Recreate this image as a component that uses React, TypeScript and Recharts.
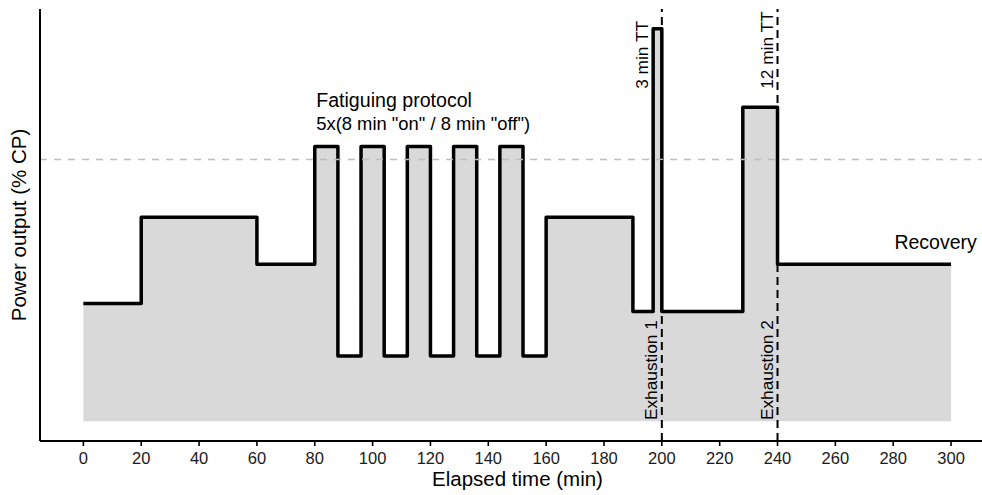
import React from "react";
import { ComposedChart, Area, XAxis, YAxis, ReferenceLine, ReferenceDot } from "recharts";

// elapsed time (min) where each step starts, and power (% CP) held from there
const times = [0, 20, 60, 80, 88, 96, 104, 112, 120, 128, 136, 144, 152, 160, 190, 197, 200, 228, 240, 300];
const power = [45, 78, 60, 105, 25, 105, 25, 105, 25, 105, 25, 105, 25, 78, 42, 150, 42, 120, 60, 60];

const xTicks = [0, 20, 40, 60, 80, 100, 120, 140, 160, 180, 200, 220, 240, 260, 280, 300];
const cpLevel = 100;
const exhaustionTimes = [200, 240];

// text notes, placed in data units
const notes = [
  { text: "Fatiguing protocol", x: 80.5, y: 120, angle: 0, anchor: "start", size: 19.6 },
  { text: '5x(8 min "on" / 8 min "off")', x: 80.5, y: 111.2, angle: 0, anchor: "start", size: 18.4 },
  { text: "3 min TT", x: 195.3, y: 127, angle: -90, anchor: "start", size: 17.3 },
  { text: "12 min TT", x: 238.4, y: 127, angle: -90, anchor: "start", size: 17.3 },
  { text: "Exhaustion 1", x: 198.2, y: 0.5, angle: -90, anchor: "start", size: 17.3 },
  { text: "Exhaustion 2", x: 238.4, y: 0.5, angle: -90, anchor: "start", size: 17.3 },
  { text: "Recovery", x: 308.9, y: 66, angle: 0, anchor: "end", size: 19.5 },
];

const data = times.map((t, i) => ({ time: t, power: power[i] }));

const FONT = "'Liberation Sans', Arial, Helvetica, sans-serif";

export default function App() {
  return (
    <div style={{ position: "absolute", left: 0, top: 0, fontFamily: FONT }}>
      <ComposedChart width={982} height={495} data={data} margin={{ top: 9, right: 0, left: 0, bottom: 0 }}>
        <XAxis
          dataKey="time"
          type="number"
          domain={[-15, 310.7]}
          ticks={xTicks}
          interval={0}
          height={54}
          tickSize={5}
          tickMargin={6}
          tick={{ fontSize: 16.5, fill: "#1a1a1a" }}
          tickLine={{ stroke: "#000", strokeWidth: 1.6 }}
          axisLine={{ stroke: "#000", strokeWidth: 2 }}
          label={{
            content: ({ viewBox }: any) => (
              <text x={viewBox.x + viewBox.width / 2 + 6.5} y={viewBox.y + 44.7} textAnchor="middle" fontSize={20.5} fill="#000">
                Elapsed time (min)
              </text>
            ),
          }}
        />
        <YAxis
          type="number"
          domain={[-7.5, 157.5]}
          width={40}
          tick={false}
          tickLine={false}
          axisLine={{ stroke: "#000", strokeWidth: 2 }}
          label={{
            content: ({ viewBox }: any) => {
              const cx = viewBox.x + 26.3;
              const cy = viewBox.y + viewBox.height / 2;
              return (
                <text x={cx} y={cy} transform={`rotate(-90 ${cx} ${cy})`} textAnchor="middle" fontSize={20.5} fill="#000">
                  Power output (% CP)
                </text>
              );
            },
          }}
        />
        <Area
          type="stepAfter"
          dataKey="power"
          baseValue={0}
          stroke="#000"
          strokeWidth={3.5}
          strokeLinejoin="round"
          fill="#D9D9D9"
          fillOpacity={1}
          dot={false}
          activeDot={false}
          isAnimationActive={false}
        />
        <ReferenceLine y={cpLevel} stroke="#BDBDBD" strokeWidth={1.5} strokeDasharray="7 7" />
        {exhaustionTimes.map((t) => (
          <ReferenceLine key={t} x={t} stroke="#000" strokeWidth={2} strokeDasharray="8 5" />
        ))}
        {notes.map((n) => (
          <ReferenceDot
            key={n.text}
            x={n.x}
            y={n.y}
            r={1}
            shape={(p: any) => (
              <text
                x={p.cx}
                y={p.cy}
                transform={n.angle ? `rotate(${n.angle} ${p.cx} ${p.cy})` : undefined}
                textAnchor={n.anchor}
                fontSize={n.size}
                fill="#000"
              >
                {n.text}
              </text>
            )}
          />
        ))}
      </ComposedChart>
    </div>
  );
}
